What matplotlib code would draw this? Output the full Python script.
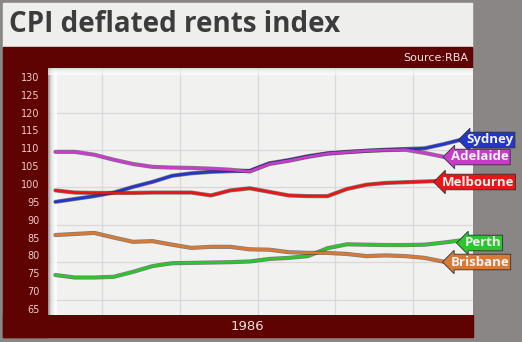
import matplotlib.pyplot as plt
import matplotlib.patches as patches
import matplotlib.patheffects as pe
import numpy as np

# quarterly time points (fractional years)
years = [1983.40, 1983.65, 1983.90, 1984.15, 1984.40, 1984.65, 1984.90, 1985.15,
         1985.40, 1985.65, 1985.90, 1986.15, 1986.40, 1986.65, 1986.90, 1987.15,
         1987.40, 1987.65, 1987.90, 1988.15, 1988.40, 1988.65]

sydney = [95.0, 95.8, 96.6, 97.6, 99.2, 100.6, 102.3, 103.0, 103.4, 103.6, 103.7,
          105.8, 106.7, 107.8, 108.6, 109.0, 109.3, 109.6, 109.8, 110.0, 111.2, 112.6]
adelaide = [109.0, 109.0, 108.2, 106.8, 105.6, 104.8, 104.6, 104.5, 104.3, 104.0, 103.5,
            105.6, 106.5, 107.6, 108.5, 108.9, 109.3, 109.5, 109.6, 108.7, 107.6, 107.5]
melbourne = [98.2, 97.6, 97.5, 97.5, 97.5, 97.6, 97.6, 97.6, 96.8, 98.2, 98.8,
             97.8, 96.8, 96.6, 96.6, 98.6, 99.8, 100.3, 100.5, 100.7, 100.9, 101.0]
perth = [74.5, 73.8, 73.8, 74.0, 75.4, 77.0, 77.8, 77.9, 78.0, 78.1, 78.3,
         79.0, 79.3, 79.8, 82.0, 83.1, 83.0, 82.9, 82.9, 83.0, 83.6, 84.3]
brisbane = [85.7, 86.0, 86.3, 85.0, 83.8, 84.0, 83.0, 82.1, 82.4, 82.4, 81.7,
            81.6, 80.9, 80.7, 80.7, 80.4, 79.8, 80.0, 79.8, 79.3, 78.2, 77.9]

city_names = ['Sydney', 'Adelaide', 'Melbourne', 'Perth', 'Brisbane']
city_colors = ['#2436c8', '#c83ccc', '#e81616', '#2ec42e', '#d87a36']
label_pos = [(490, 140), (480, 157), (478, 182), (483, 243), (480, 262)]  # pixel centres

y_ticks = [130, 125, 120, 115, 110, 105, 100, 95, 90, 85, 80, 75, 70, 65]
grid_x = [1984, 1985, 1986, 1987, 1988]
grid_y = [119.9, 109.5, 99.1, 88.5, 78.1, 67.4]

W, H = 522, 342
DARKRED = '#5e0202'
XLIM = (1983.305, 1988.772)
YLIM = (63.3, 132.5)

fig = plt.figure(figsize=(W / 100, H / 100), dpi=100, facecolor='#8a8686')


def px_rect(x0, y0, x1, y1, color):
    fig.patches.append(patches.Rectangle((x0 / W, 1 - y1 / H), (x1 - x0) / W, (y1 - y0) / H,
                                         transform=fig.transFigure, color=color, zorder=-5))


# frame pieces
px_rect(3, 3, 472, 47, '#eeeeec')
px_rect(3, 47, 472, 68, DARKRED)
px_rect(3, 68, 48, 337, DARKRED)
px_rect(3, 315, 473, 337, DARKRED)

fig.text(9 / W, 1 - 25 / H, 'CPI deflated rents index', fontsize=20, fontweight='bold',
         color='#3c3c3c', family='Open Sans', va='center', ha='left')
fig.text(468 / W, 1 - 58 / H, 'Source:RBA', fontsize=8, color='#f3e4e4',
         va='center', ha='right')
fig.text(247 / W, 1 - 326 / H, '1986', fontsize=9.5, color='#f3e0e0',
         va='center', ha='center')

ax = fig.add_axes([48 / W, (H - 315) / H, 425 / W, 247 / H])
ax.set_zorder(2)
ax.set_facecolor('#f1f1f0')

for gx in grid_x:
    ax.axvline(gx, color='#d9d9d9', lw=0.9, zorder=1)
for gy in grid_y:
    ax.axhline(gy, color='#d9d9d9', lw=0.9, zorder=1)

# soft shadow along the left and top edge of the plot area
grad = np.linspace(1, 0, 50).reshape(1, -1)
ax.imshow(grad ** 2, extent=(XLIM[0], XLIM[0] + 0.11, YLIM[0], YLIM[1]), aspect='auto',
          cmap='Greys', vmin=0, vmax=1.6, alpha=0.8, zorder=2)
ax.imshow(grad.T ** 2, extent=(XLIM[0], XLIM[1], YLIM[1] - 2.0, YLIM[1]), aspect='auto',
          cmap='Greys', vmin=0, vmax=2.2, alpha=0.6, zorder=2)

series = [sydney, adelaide, melbourne, perth, brisbane]
for vals, col in zip(series, city_colors):
    ax.plot(years, vals, color=col, lw=2.0, solid_capstyle='round', zorder=3,
            path_effects=[pe.Stroke(linewidth=3.0, foreground='#202020', alpha=0.55), pe.Normal()])

ax.set_xlim(*XLIM)
ax.set_ylim(*YLIM)
ax.set_yticks(y_ticks)
ax.set_yticklabels([str(v) for v in y_ticks])
ax.set_xticks([])
ax.tick_params(axis='y', length=0, pad=6, labelsize=7, labelcolor='#f0cccc')
for s in ax.spines.values():
    s.set_visible(False)

# tags at line ends
for name, col, (cx, cy) in zip(city_names, city_colors, label_pos):
    fig.text(cx / W, 1 - cy / H, name, fontsize=9.5, fontweight='bold', color='#f4f4f4',
             family='Open Sans', ha='center', va='center', zorder=10,
             bbox=dict(boxstyle='larrow,pad=0.1', fc=col, ec='#303030', lw=0.6))

fig.savefig('out.png', dpi=100, facecolor=fig.get_facecolor())
